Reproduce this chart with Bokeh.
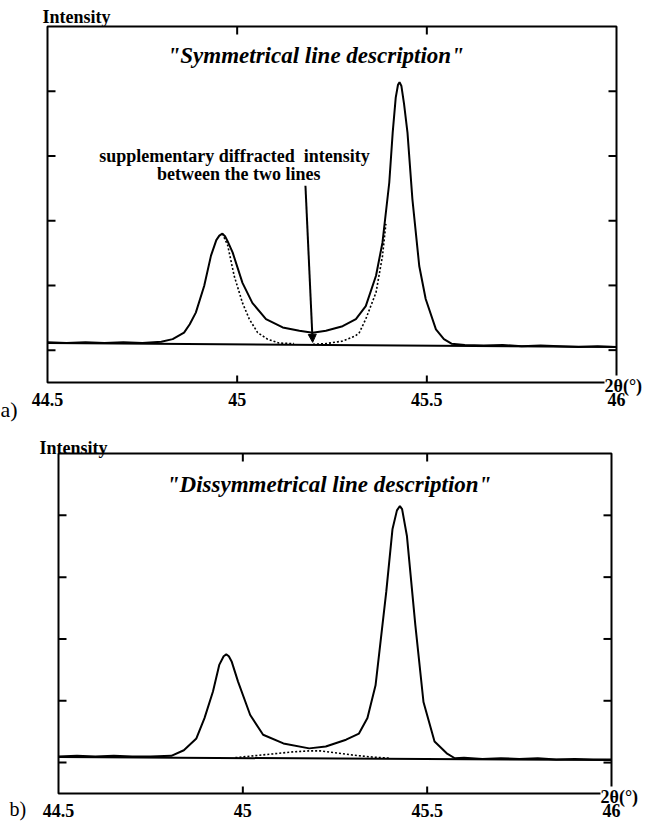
import math
from bokeh.plotting import figure
from bokeh.layouts import column
from bokeh.models import Arrow, NormalHead, Range1d, Text
from bokeh.core.properties import value
from bokeh.embed import file_html
from bokeh.resources import INLINE

# ---------------- data ----------------
x_lim = [44.5, 46.0]
y_lim = [-0.5, 5.0]
x_ticks = [44.5, 45.0, 45.5, 46.0]
x_tick_labels = ["44.5", "45", "45.5", "46"]
inner_x_ticks = [45.0, 45.5]
y_ticks = [0, 1, 2, 3, 4]

# panel a : measured profile
a_meas_x = [44.5, 44.55, 44.6, 44.65, 44.7, 44.75, 44.8, 44.83, 44.86, 44.875,
            44.891, 44.913, 44.931, 44.945, 44.953, 44.961, 44.968, 44.975, 44.988,
            45.014, 45.04, 45.076, 45.12, 45.164, 45.199, 45.234, 45.278, 45.313,
            45.339, 45.366, 45.383, 45.401, 45.41, 45.418, 45.424, 45.428, 45.433,
            45.44, 45.449, 45.462, 45.48, 45.497, 45.524, 45.545, 45.565, 45.6,
            45.65, 45.7, 45.75, 45.8, 45.85, 45.9, 45.95, 46.0]
a_meas_y = [0.12, 0.11, 0.12, 0.11, 0.12, 0.11, 0.13, 0.17, 0.27, 0.40,
            0.58, 0.99, 1.46, 1.70, 1.77, 1.80, 1.76, 1.68, 1.51,
            1.04, 0.73, 0.48, 0.35, 0.30, 0.27, 0.30, 0.37, 0.48,
            0.68, 1.15, 1.66, 2.59, 3.36, 3.90, 4.10, 4.14, 4.08,
            3.80, 3.36, 2.33, 1.30, 0.79, 0.32, 0.17, 0.10, 0.08,
            0.07, 0.08, 0.06, 0.07, 0.06, 0.05, 0.06, 0.05]
a_base_x = [44.5, 46.0]
a_base_y = [0.11, 0.05]
# symmetrical fit: line 1 (right flank) and line 2 (left flank)
a_fit1_x = [44.961, 44.975, 44.992, 45.014, 45.032, 45.054, 45.08, 45.11, 45.15]
a_fit1_y = [1.80, 1.62, 1.15, 0.73, 0.48, 0.27, 0.17, 0.11, 0.10]
a_fit2_x = [45.20, 45.233, 45.278, 45.312, 45.322, 45.339, 45.366, 45.383, 45.392]
a_fit2_y = [0.09, 0.10, 0.14, 0.22, 0.27, 0.48, 0.89, 1.45, 1.95]

# panel b : measured profile
b_meas_x = [44.5, 44.55, 44.6, 44.65, 44.7, 44.75, 44.806, 44.84, 44.874, 44.896,
            44.919, 44.936, 44.948, 44.955, 44.962, 44.97, 44.987, 45.02, 45.055,
            45.11, 45.18, 45.225, 45.28, 45.315, 45.338, 45.36, 45.389, 45.406,
            45.418, 45.426, 45.432, 45.445, 45.468, 45.49, 45.52, 45.553, 45.575,
            45.6, 45.65, 45.7, 45.75, 45.8, 45.85, 45.9, 45.95, 46.0]
b_meas_y = [0.10, 0.11, 0.10, 0.11, 0.10, 0.10, 0.11, 0.20, 0.39, 0.72,
            1.15, 1.58, 1.72, 1.75, 1.72, 1.63, 1.31, 0.77, 0.45,
            0.31, 0.23, 0.26, 0.37, 0.47, 0.72, 1.25, 2.76, 3.78,
            4.08, 4.15, 4.10, 3.67, 2.22, 0.98, 0.34, 0.15, 0.07,
            0.08, 0.06, 0.07, 0.06, 0.07, 0.05, 0.06, 0.05, 0.05]
b_base_x = [44.5, 46.0]
b_base_y = [0.09, 0.04]
# dissymmetrical description: supplementary broad component
b_fit_x = [44.98, 45.03, 45.08, 45.13, 45.18, 45.21, 45.25, 45.30, 45.35, 45.40]
b_fit_y = [0.08, 0.11, 0.14, 0.17, 0.19, 0.19, 0.16, 0.12, 0.09, 0.07]

SERIF = value("Liberation Serif")
HAS_BG = "background_fill_color" in Text.properties()


def make_panel(width, height, left, right, top, bottom):
    """Canvas-wide plot area; the drawn box occupies the given pixel margins."""
    sx = (width - left - right) / (x_lim[1] - x_lim[0])
    sy = (height - top - bottom) / (y_lim[1] - y_lim[0])
    p = figure(width=width, height=height,
               x_range=Range1d(x_lim[0] - left / sx, x_lim[1] + right / sx),
               y_range=Range1d(y_lim[0] - bottom / sy, y_lim[1] + top / sy),
               output_backend="svg", toolbar_location=None,
               x_axis_location=None, y_axis_location=None,
               min_border=0, outline_line_color=None)
    p.grid.visible = False
    p.background_fill_color = "white"
    p.border_fill_color = "white"

    # frame box
    p.quad(left=[x_lim[0]], right=[x_lim[1]], bottom=[y_lim[0]], top=[y_lim[1]],
           fill_color=None, line_color="black", line_width=2)
    # inward ticks
    n = len(y_ticks)
    p.ray(x=[x_lim[0]] * n, y=y_ticks, length=8, length_units="screen",
          angle=0, line_color="black", line_width=2)
    p.ray(x=[x_lim[1]] * n, y=y_ticks, length=8, length_units="screen",
          angle=math.pi, line_color="black", line_width=2)
    m = len(inner_x_ticks)
    p.ray(x=inner_x_ticks, y=[y_lim[1]] * m, length=8, length_units="screen",
          angle=-math.pi / 2, line_color="black", line_width=2)
    p.ray(x=inner_x_ticks, y=[y_lim[0]] * m, length=7, length_units="screen",
          angle=math.pi / 2, line_color="black", line_width=2)
    return p


def tick_labels(p):
    p.text(x=x_ticks, y=[y_lim[0]] * len(x_ticks), text=x_tick_labels,
           y_offset=10, text_align="center", text_baseline="top",
           text_font=SERIF, text_font_style="bold", text_font_size="18px",
           text_color="black")


def label(p, text, x, y, xo, yo, size, style="bold", align="left", bg=False):
    kw = dict(x=[x], y=[y], text=[text], x_offset=xo, y_offset=yo,
              text_font=SERIF, text_font_size=size, text_font_style=style,
              text_align=align, text_baseline="alphabetic", text_color="black")
    if bg and HAS_BG:
        kw["background_fill_color"] = "white"
    p.text(**kw)


# ---------------- panel a ----------------
p1 = make_panel(648, 424, 47, 32, 26, 42)
p1.line(a_base_x, a_base_y, line_color="black", line_width=2)
p1.line(a_meas_x, a_meas_y, line_color="black", line_width=2)
p1.line(a_fit1_x, a_fit1_y, line_color="black", line_width=1.6, line_dash="2 2")
p1.line(a_fit2_x, a_fit2_y, line_color="black", line_width=1.6, line_dash="2 2")

label(p1, "Intensity", x_lim[0], y_lim[1], -5, -10, "18px")
label(p1, "\"Symmetrical line description\"", 45.207, y_lim[1], 0, 29, "23px",
      style="bold italic", align="center")
label(p1, "supplementary diffracted\u00a0 intensity", 44.993, y_lim[1], 0, 129,
      "18px", align="center")
label(p1, "between the two lines", 45.004, y_lim[1], 0, 147, "18px", align="center")
p1.add_layout(Arrow(end=NormalHead(size=8, fill_color="black", line_color="black"),
                    x_start=45.18, y_start=2.54, x_end=45.199, y_end=0.12,
                    line_color="black", line_width=2))
label(p1, "2θ(°)", x_lim[1], y_lim[0], -12, 3, "18px", bg=True)
label(p1, "a)", x_lim[0], y_lim[0], -47, 27, "22px", style="normal")
tick_labels(p1)

# ---------------- panel b ----------------
p2 = make_panel(648, 399, 58, 37, 29, 30)
p2.line(b_base_x, b_base_y, line_color="black", line_width=2)
p2.line(b_meas_x, b_meas_y, line_color="black", line_width=2)
p2.line(b_fit_x, b_fit_y, line_color="black", line_width=1.6, line_dash="2 2")

label(p2, "Intensity", x_lim[0], y_lim[1], -19, -6, "18px")
label(p2, "\"Dissymmetrical line description\"", 45.234, y_lim[1], 0, 31, "23px",
      style="bold italic", align="center")
label(p2, "2θ(°)", x_lim[1], y_lim[0], -11, 3, "18px", bg=True)
label(p2, "b)", x_lim[0], y_lim[0], -49, 15, "20px", style="normal")
tick_labels(p2)

layout = column(p1, p2)
open("out.html", "w").write(file_html(layout, INLINE))
